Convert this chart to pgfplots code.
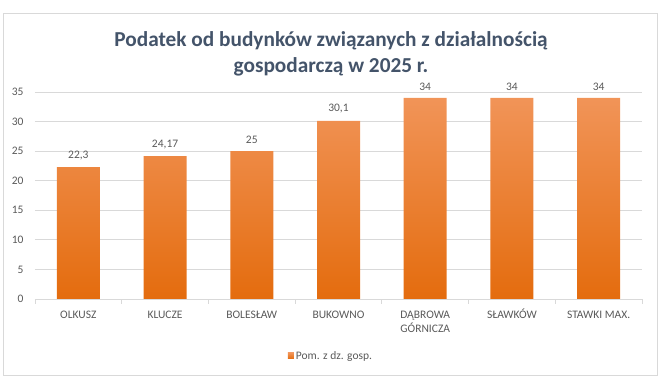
\documentclass[border=0pt]{standalone}
\usepackage{pgfplots}
\pgfplotsset{compat=1.18}
\usepackage{fontspec}
\setmainfont{Carlito}
\definecolor{titlec}{RGB}{68,84,106}
\definecolor{tickc}{RGB}{89,89,89}
\definecolor{gridc}{RGB}{217,217,217}
\definecolor{bartop}{RGB}{241,148,88}
\definecolor{barbot}{RGB}{228,108,14}
\definecolor{barmid}{RGB}{237,125,49}
\newcommand{\st}{\rule{0pt}{11pt}}
\begin{document}
\begin{tikzpicture}
\begin{axis}[
  name=ax,
  scale only axis, width=607pt, height=207pt,
  xmin=-0.5, xmax=6.5, ymin=0, ymax=35,
  ytick={0,5,...,35},
  ymajorgrids, grid style={gridc, line width=0.8pt},
  axis lines=left, axis line style={-},
  y axis line style={draw=none},
  x axis line style={gridc, line width=0.8pt},
  ytick style={draw=none},
  xtick={0,...,6},
  xticklabels={\st OLKUSZ, \st KLUCZE, \st BOLESŁAW, \st BUKOWNO, {\st DĄBROWA\\GÓRNICZA}, \st SŁAWKÓW, \st STAWKI MAX.},
  major x tick style={draw=none},
  major tick length=0pt,
  minor xtick={-0.5,0.5,...,6.5},
  minor x tick style={gridc, line width=0.8pt},
  minor tick length=5pt,
  tick align=outside,
  /pgf/number format/assume math mode=true,
  tick label style={font=\fontsize{11.5}{14}\selectfont, text=tickc},
  xticklabel style={align=center, anchor=north, yshift=-5pt},
  yticklabel style={xshift=-8pt},
  ybar, bar width=43pt,
  point meta=explicit symbolic,
  nodes near coords,
  nodes near coords style={font=\fontsize{11.5}{14}\selectfont, text=tickc, yshift=4pt},
  legend style={at={(0.4876,-0.275)}, anchor=center, draw=none, fill=none, font=\fontsize{11.5}{14}\selectfont, text=tickc},
  legend image code/.code={\fill[barmid] (0pt,-3pt) rectangle (6pt,3pt);},
]
\addplot[draw=none, top color=bartop, bottom color=barbot] coordinates {
  (0,22.3) [22,3]
  (1,24.17) [24,17]
  (2,25) [25]
  (3,30.1) [30,1]
  (4,34) [34]
  (5,34) [34]
  (6,34) [34]
};
\addlegendentry{Pom. z dz. gosp.}
\end{axis}
\begin{scope}[shift={(ax.south west)}, x=1pt, y=1pt]
\useasboundingbox (-35,299) rectangle (628,-86);
\draw[gridc, line width=0.8pt] (-32,286) rectangle (622,-76);
\node[font=\fontsize{21.3}{26}\selectfont\bfseries, text=titlec, align=center] at (296,245) {Podatek od budynków związanych z działalnością\\gospodarczą w 2025 r.};
\end{scope}
\end{tikzpicture}
\end{document}
